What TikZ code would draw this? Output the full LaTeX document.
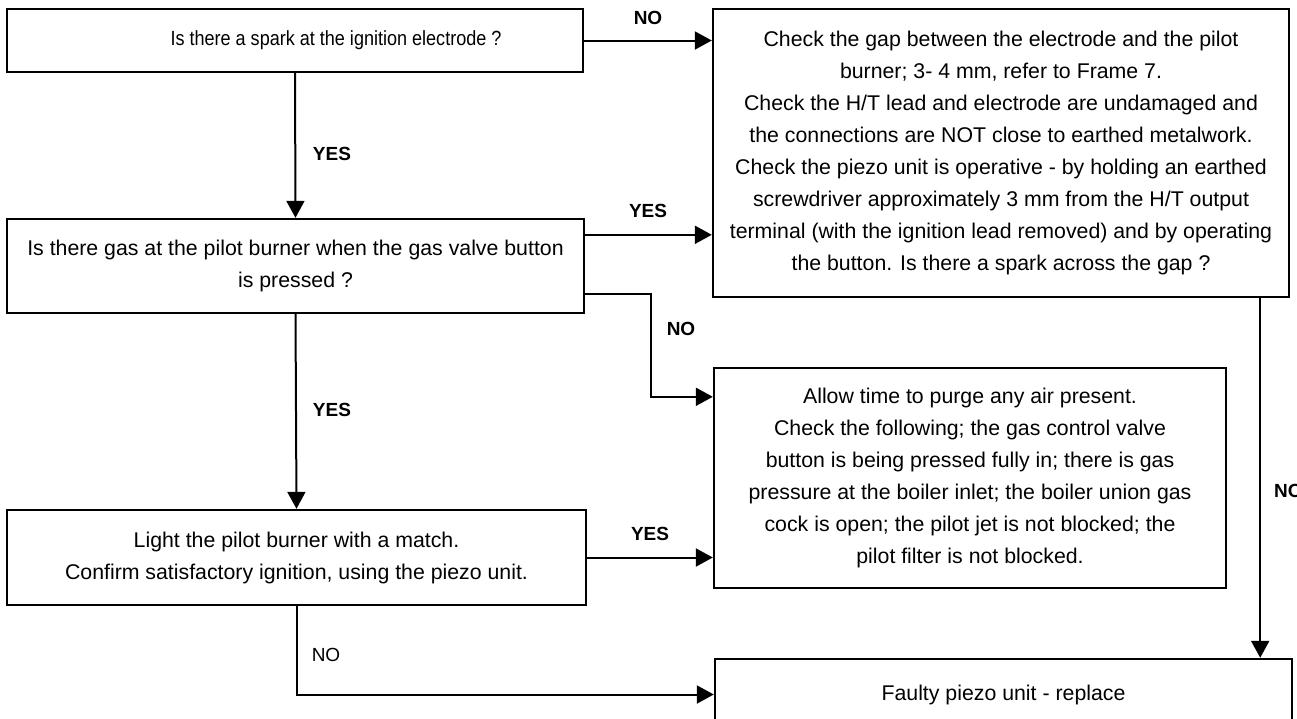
\documentclass[tikz,border=0pt]{standalone}
\usepackage{fontspec}
\usepackage{graphicx}
\setmainfont{Liberation Sans}
\usetikzlibrary{arrows.meta,calc}
\begin{document}
\begin{tikzpicture}[x=1pt,y=-1pt,
  box/.style={draw, line width=2.4pt, inner sep=0pt, align=center, font=\fontsize{21.3}{32}\selectfont},
  txt/.style={inner sep=0pt, align=center, font=\fontsize{20.5}{32}\selectfont},
  conn/.style={line width=2pt},
  arr/.style={conn, -{Triangle[length=17pt,width=18pt]}},
  lab/.style={font=\bfseries\fontsize{19}{22}\selectfont, inner sep=0pt},
  labr/.style={font=\fontsize{19}{22}\selectfont, inner sep=0pt},
]
\useasboundingbox (0,0) rectangle (1297,718);
% boxes
\node[box, minimum width=576pt, minimum height=63pt] (b1) at (295,40.5) {};
\node[txt] (b1t) at (336,40) {\scalebox{0.88}[1]{Is there a spark at the ignition electrode ?}};
\node[box, minimum width=577pt, minimum height=94pt] (b2) at (295.5,266)
  {Is there gas at the pilot burner when the gas valve button\\is pressed ?};
\node[box, minimum width=579pt, minimum height=95pt] (b3) at (296.5,557.5)
  {Light the pilot burner with a match.\\Confirm satisfactory ignition, using the piezo unit.};
\node[box, minimum width=576pt, minimum height=288pt] (bA) at (1001,153)
  {Check the gap between the electrode and the pilot\\
   burner; 3- 4 mm, refer to Frame 7.\\
   Check the H/T lead and electrode are undamaged and\\
   the connections are NOT close to earthed metalwork.\\
   Check the piezo unit is operative - by holding an earthed\\
   screwdriver approximately 3 mm from the H/T output\\
   terminal (with the ignition lead removed) and by operating\\
   the button. Is there a spark across the gap ?};
\node[box, minimum width=512pt, minimum height=220pt] (bB) at (970,478)
  {Allow time to purge any air present.\\
   Check the following; the gas control valve\\
   button is being pressed fully in; there is gas\\
   pressure at the boiler inlet; the boiler union gas\\
   cock is open; the pilot jet is not blocked; the\\
   pilot filter is not blocked.};
\node[box, minimum width=577pt, minimum height=71pt] (bC) at (1003.5,694.5)
  {Faulty piezo unit - replace};
% connectors
\draw[arr] (b1.east) -- (b1.east -| bA.west);
\draw[arr] (b1.south) -- (b2.north);
\draw[arr] ($(b2.north east)+(0,17)$) coordinate (p2) -- (p2 -| bA.west);
\draw[arr] ($(b2.south east)+(0,-20)$) coordinate (p3) -- ++(66,0) |- ($(bB.north west)+(0,30)$);
\draw[arr] (b2.south) -- (b3.north);
\draw[arr] (b3.east) -- (b3.east -| bB.west);
\draw[arr] (b3.south) |- (bC.west);
\draw[arr] ($(bA.south east)+(-30,0)$) coordinate (p4) -- (p4 |- bC.north);
% labels
\node[lab] (l1) at (648,18) {NO};
\node[lab] (l2) at (332,154) {YES};
\node[lab] (l3) at (648,211) {YES};
\node[lab] (l4) at (681,329) {NO};
\node[lab] (l5) at (332,410) {YES};
\node[lab] (l6) at (650,534) {YES};
\node[labr] (l7) at (326,655) {NO};
\node[lab, anchor=west] (l8) at (1274,491) {NO};
\end{tikzpicture}
\end{document}
